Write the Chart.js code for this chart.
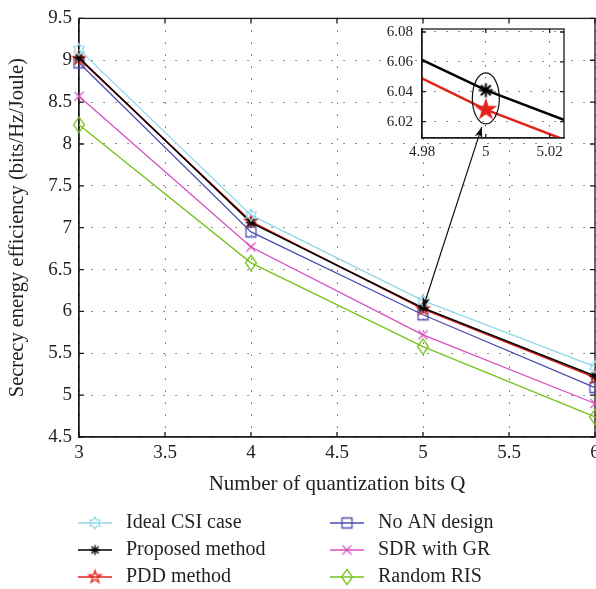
<!DOCTYPE html>
<html>
<head>
<meta charset="utf-8">
<script src="https://cdn.jsdelivr.net/npm/chart.js@4.4.0/dist/chart.umd.min.js"></script>
<style>
html, body { margin: 0; padding: 0; overflow: hidden; background: #fff; }
#wrap { position: relative; width: 596px; height: 589px; overflow: hidden; }
#mainChart { position: absolute; left: 0; top: 0; }
#zoomChart { position: absolute; left: 370px; top: 0; }
</style>
</head>
<body>
<div id="wrap">
  <canvas id="mainChart" width="610" height="589"></canvas>
  <canvas id="zoomChart" width="226" height="320"></canvas>
</div>
<script>
// Datos
const qBits = [3, 4, 5, 6];
const idealCsi = [9.13, 7.15, 6.13, 5.34];
const proposed = [9.03, 7.06, 6.041, 5.23];
const pddMethod = [9.02, 7.075, 6.028, 5.21];
const noAnDesign = [8.97, 6.95, 5.96, 5.09];
const sdrWithGr = [8.57, 6.77, 5.72, 4.90];
const randomRis = [8.23, 6.58, 5.58, 4.74];

const seriesNames = ['Ideal CSI case', 'Proposed method', 'PDD method', 'No AN design', 'SDR with GR', 'Random RIS'];
const xTitle = 'Number of quantization bits Q';
const yTitle = 'Secrecy energy efficiency (bits/Hz/Joule)';

// rango del zoom
const zoomX = [4.98, 5.0245];
const zoomY = [6.009, 6.082];

const textColor = '#231f20';
const serif = "'Liberation Serif', 'Times New Roman', serif";
Chart.defaults.font.family = serif;
Chart.defaults.color = textColor;

// Dibuja un marcador en un canvas pequeño para usarlo como pointStyle
function markerCanvas(kind, color, r, lw, fill) {
  const s = Math.ceil(2 * r * 1.5 + lw + 4);
  const c = document.createElement('canvas');
  c.width = s; c.height = s;
  const g = c.getContext('2d');
  g.translate(s / 2, s / 2);
  g.strokeStyle = color; g.fillStyle = color; g.lineWidth = lw;
  g.beginPath();
  if (kind === 'hexagram' || kind === 'pentagram') {
    const n = kind === 'hexagram' ? 6 : 5;
    const rin = kind === 'hexagram' ? r / Math.sqrt(3) : r * 0.382;
    for (let i = 0; i < 2 * n; i++) {
      const a = -Math.PI / 2 + i * Math.PI / n;
      const rr = i % 2 === 0 ? r : rin;
      if (i === 0) g.moveTo(rr * Math.cos(a), rr * Math.sin(a));
      else g.lineTo(rr * Math.cos(a), rr * Math.sin(a));
    }
    g.closePath();
  } else if (kind === 'asterisk') {
    const d = r * Math.SQRT1_2;
    g.moveTo(-r, 0); g.lineTo(r, 0);
    g.moveTo(0, -r); g.lineTo(0, r);
    g.moveTo(-d, -d); g.lineTo(d, d);
    g.moveTo(-d, d); g.lineTo(d, -d);
  } else if (kind === 'square') {
    g.rect(-r, -r, 2 * r, 2 * r);
  } else if (kind === 'x') {
    g.moveTo(-r, -r); g.lineTo(r, r);
    g.moveTo(-r, r); g.lineTo(r, -r);
  } else if (kind === 'diamond') {
    g.moveTo(0, -r * 1.4); g.lineTo(r, 0); g.lineTo(0, r * 1.4); g.lineTo(-r, 0);
    g.closePath();
  }
  if (fill) g.fill();
  g.stroke();
  return c;
}

const colors = ['#8fd8ea', '#000000', '#e3231b', '#4b4fb0', '#d64fbd', '#76c21c'];
const markers = [
  markerCanvas('hexagram', colors[0], 6, 1.2),
  markerCanvas('asterisk', colors[1], 5, 1.3),
  markerCanvas('pentagram', colors[2], 6.5, 1.3),
  markerCanvas('square', colors[3], 5, 1.3),
  markerCanvas('x', colors[4], 4.5, 1.3),
  markerCanvas('diamond', colors[5], 5.5, 1.3)
];
const allSeries = [idealCsi, proposed, pddMethod, noAnDesign, sdrWithGr, randomRis];
const lineWidths = [1.3, 1.6, 1.6, 1.3, 1.3, 1.3];

function toPoints(values) {
  return qBits.map((q, i) => ({ x: q, y: values[i] }));
}

const plainNum = v => String(+v.toFixed(2));

// marco completo y marcas de division hacia dentro
function drawFrame(chart, len) {
  const { ctx, chartArea: a, scales } = chart;
  ctx.save();
  ctx.strokeStyle = '#1a1a1a';
  ctx.lineWidth = 1.3;
  ctx.beginPath();
  scales.x.ticks.forEach(t => {
    const p = scales.x.getPixelForValue(t.value);
    ctx.moveTo(p, a.bottom); ctx.lineTo(p, a.bottom - len);
    ctx.moveTo(p, a.top); ctx.lineTo(p, a.top + len);
  });
  scales.y.ticks.forEach(t => {
    const p = scales.y.getPixelForValue(t.value);
    ctx.moveTo(a.left, p); ctx.lineTo(a.left + len, p);
    ctx.moveTo(a.right, p); ctx.lineTo(a.right - len, p);
  });
  ctx.stroke();
  ctx.strokeRect(a.left, a.top, a.right - a.left, a.bottom - a.top);
  ctx.restore();
}

const mainPlugin = {
  id: 'mainPlugin',
  beforeDatasetsDraw(chart) { drawFrame(chart, 5); },
  afterDraw(chart) {
    // leyenda en dos columnas
    const ctx = chart.ctx;
    const colX = [78, 330];
    const rowY = [523, 550, 577];
    ctx.save();
    ctx.font = '20px ' + serif;
    ctx.textBaseline = 'middle';
    ctx.fillStyle = textColor;
    seriesNames.forEach((name, i) => {
      const x0 = colX[Math.floor(i / 3)];
      const y = rowY[i % 3];
      ctx.strokeStyle = colors[i];
      ctx.lineWidth = 1.3;
      ctx.beginPath(); ctx.moveTo(x0, y); ctx.lineTo(x0 + 34, y); ctx.stroke();
      const m = markers[i];
      ctx.drawImage(m, x0 + 17 - m.width / 2, y - m.height / 2);
      ctx.fillText(name, x0 + 48, y);
    });
    ctx.restore();
  }
};

const gridStyle = { color: '#6a6a6a', lineWidth: 1, drawTicks: false };
const borderStyle = { display: true, color: '#1a1a1a', width: 1.3, dash: [1.5, 10.5] };

const mainChart = new Chart(document.getElementById('mainChart'), {
  type: 'line',
  data: {
    datasets: allSeries.map((vals, i) => ({
      label: seriesNames[i],
      data: toPoints(vals),
      borderColor: colors[i],
      backgroundColor: colors[i],
      borderWidth: lineWidths[i],
      pointStyle: markers[i],
      pointRadius: 5,
      tension: 0,
      clip: false
    }))
  },
  options: {
    responsive: false,
    devicePixelRatio: 1,
    animation: false,
    events: [],
    layout: { padding: { top: 12, right: 15, bottom: 92, left: 0 } },
    plugins: { legend: { display: false }, tooltip: { enabled: false } },
    scales: {
      x: {
        type: 'linear', min: 3, max: 6,
        ticks: { stepSize: 0.5, padding: 5, font: { size: 19 }, color: textColor, maxRotation: 0, callback: plainNum },
        grid: gridStyle, border: borderStyle,
        title: { display: true, text: xTitle, font: { size: 21 }, color: textColor, padding: { top: 0, bottom: 0 } },
        afterFit: s => { s.height = 60; }
      },
      y: {
        type: 'linear', min: 4.5, max: 9.5,
        ticks: { stepSize: 0.5, padding: 7, font: { size: 19 }, color: textColor, callback: plainNum },
        grid: gridStyle, border: borderStyle,
        title: { display: true, text: yTitle, font: { size: 20.5 }, color: textColor, padding: { top: 5, bottom: 0 } },
        afterFit: s => { s.width = 79; }
      }
    }
  },
  plugins: [mainPlugin]
});

// --- recuadro de zoom ---
function drawArrowHead(ctx, x, y, ang) {
  const l = 11, w = 4;
  ctx.beginPath();
  ctx.moveTo(x, y);
  ctx.lineTo(x - l * Math.cos(ang) + w * Math.sin(ang), y - l * Math.sin(ang) - w * Math.cos(ang));
  ctx.lineTo(x - l * 0.7 * Math.cos(ang), y - l * 0.7 * Math.sin(ang));
  ctx.lineTo(x - l * Math.cos(ang) - w * Math.sin(ang), y - l * Math.sin(ang) + w * Math.cos(ang));
  ctx.closePath();
  ctx.fill();
}

const zoomPlugin = {
  id: 'zoomPlugin',
  beforeDraw(chart) {
    const { ctx, chartArea: a } = chart;
    ctx.save();
    ctx.fillStyle = '#fff';
    ctx.fillRect(a.left, a.top, a.right - a.left, a.bottom - a.top);
    ctx.restore();
  },
  afterDatasetsDraw(chart) { drawFrame(chart, 4); },
  afterDraw(chart) {
    const { ctx, scales: { x, y } } = chart;
    const ex = x.getPixelForValue(qBits[2]);
    const ey = y.getPixelForValue((proposed[2] + pddMethod[2]) / 2 + 0.001);
    ctx.save();
    ctx.strokeStyle = '#111';
    ctx.fillStyle = '#111';
    ctx.lineWidth = 1.2;
    ctx.beginPath();
    ctx.ellipse(ex, ey, 13.5, 25.5, 0, 0, Math.PI * 2);
    ctx.stroke();
    // flecha doble hasta el punto del grafico principal
    const off = 370;
    const bx = mainChart.scales.x.getPixelForValue(qBits[2]) - off;
    const by = mainChart.scales.y.getPixelForValue(proposed[2]);
    const tx = ex - 4, ty = ey + 25.5 + 3;
    ctx.beginPath(); ctx.moveTo(bx, by); ctx.lineTo(tx, ty); ctx.stroke();
    const ang = Math.atan2(ty - by, tx - bx);
    drawArrowHead(ctx, tx, ty, ang);
    drawArrowHead(ctx, bx, by, ang + Math.PI);
    ctx.restore();
  }
};

const zoomMarkers = [
  markerCanvas('asterisk', colors[1], 7, 2),
  markerCanvas('pentagram', colors[2], 10, 1.2, true)
];

new Chart(document.getElementById('zoomChart'), {
  type: 'line',
  data: {
    datasets: [proposed, pddMethod].map((vals, i) => ({
      data: toPoints(vals),
      borderColor: colors[i + 1],
      backgroundColor: colors[i + 1],
      borderWidth: 2.5,
      pointStyle: zoomMarkers[i],
      pointRadius: 5,
      tension: 0
    }))
  },
  options: {
    responsive: false,
    devicePixelRatio: 1,
    animation: false,
    events: [],
    layout: { padding: { top: 29, right: 32, bottom: 160, left: 0 } },
    plugins: { legend: { display: false }, tooltip: { enabled: false } },
    scales: {
      x: {
        type: 'linear', min: zoomX[0], max: zoomX[1],
        ticks: { stepSize: 0.02, includeBounds: false, padding: 5, font: { size: 15 }, color: textColor, maxRotation: 0,
          callback: plainNum },
        grid: gridStyle, border: borderStyle,
        afterFit: s => { s.height = 22; }
      },
      y: {
        type: 'linear', min: zoomY[0], max: zoomY[1],
        ticks: { stepSize: 0.02, includeBounds: false, padding: 9, font: { size: 15 }, color: textColor,
          callback: v => v.toFixed(2) },
        grid: gridStyle, border: borderStyle,
        afterFit: s => { s.width = 52; }
      }
    }
  },
  plugins: [zoomPlugin]
});
</script>
</body>
</html>
